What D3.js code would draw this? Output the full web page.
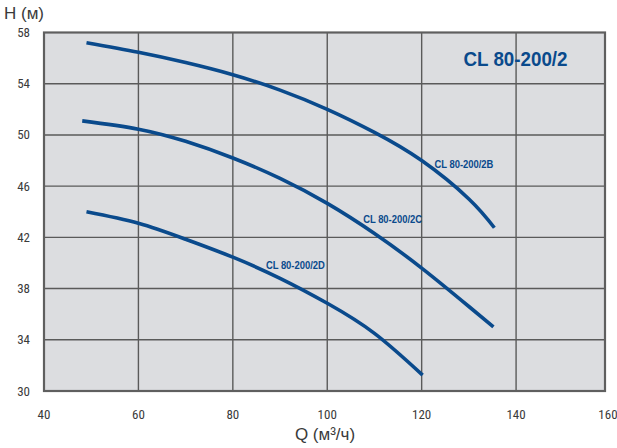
<!DOCTYPE html>
<html><head><meta charset="utf-8">
<script src="https://cdn.jsdelivr.net/npm/d3@7"></script>
<style>
html,body{margin:0;padding:0;background:#fff;}
svg{display:block;}
</style></head>
<body>
<svg id="chart" width="617" height="448"></svg>
<script>
// ---- data ----
const xTicks = [40, 60, 80, 100, 120, 140, 160];
const yTicks = [30, 34, 38, 42, 46, 50, 54, 58];
const seriesNames = ["CL 80-200/2B", "CL 80-200/2C", "CL 80-200/2D"];
const qB = [49.0, 60, 70, 80, 90, 100, 110, 120, 130, 135.4];
const hB = [57.2, 56.45, 55.65, 54.7, 53.5, 52.0, 50.2, 48.0, 45.0, 42.75];
const qC = [48.1, 60, 70, 80, 90, 100, 110, 120, 130, 135.2];
const hC = [51.1, 50.45, 49.5, 48.2, 46.6, 44.65, 42.3, 39.6, 36.6, 35.0];
const qD = [49.0, 60, 70, 80, 90, 100, 110, 120.2];
const hD = [44.0, 43.1, 41.85, 40.45, 38.8, 36.85, 34.5, 31.24];
// label anchor positions (data coords)
const labelQ = [122.7, 107.6, 87.0];
const labelH = [47.44, 43.09, 39.5];
const title = "CL 80-200/2";
const xTitle = "Q (м³/ч)";
const yTitle = "H (м)";

// ---- layout ----
const frame = {left: 44, top: 32.5, right: 605, bottom: 391};
const blue = "#0a4a8c";
const svg = d3.select("#chart");
const x = d3.scaleLinear().domain([40, 160]).range([44, 610.5]);
const y = d3.scaleLinear().domain([30, 58]).range([391, 32.5]);

svg.append("rect")
  .attr("x", frame.left).attr("y", frame.top)
  .attr("width", frame.right - frame.left).attr("height", frame.bottom - frame.top)
  .attr("fill", "#dcdde0");

// grid
const g = svg.append("g");
g.selectAll("line.v").data(xTicks.filter(d => x(d) > frame.left + 2 && x(d) < frame.right - 2))
  .join("line").attr("class", "v")
  .attr("x1", d => x(d)).attr("x2", d => x(d))
  .attr("y1", frame.top).attr("y2", frame.bottom)
  .attr("stroke", "#5a5a5a").attr("stroke-width", 1.4);
g.selectAll("line.h").data(yTicks.filter(d => y(d) > frame.top + 2 && y(d) < frame.bottom - 2))
  .join("line").attr("class", "h")
  .attr("x1", frame.left).attr("x2", frame.right)
  .attr("y1", d => y(d)).attr("y2", d => y(d))
  .attr("stroke", "#5a5a5a").attr("stroke-width", 1.4);

svg.append("rect")
  .attr("x", frame.left).attr("y", frame.top)
  .attr("width", frame.right - frame.left).attr("height", frame.bottom - frame.top)
  .attr("fill", "none").attr("stroke", "#5f5f5f").attr("stroke-width", 2.2);

// tick labels
const tickFont = "'Liberation Sans Narrow','Arial Narrow','Roboto Condensed',sans-serif";
svg.append("g").selectAll("text").data(yTicks).join("text")
  .attr("x", 30).attr("y", d => y(d)).attr("dy", "0.35em")
  .attr("text-anchor", "end")
  .attr("font-family", tickFont).attr("font-size", 13).attr("fill", "#3a3a3a")
  .text(d => d);
svg.append("g").selectAll("text").data(xTicks).join("text")
  .attr("x", d => Math.min(x(d), 608)).attr("y", 414).attr("dy", "0.35em")
  .attr("text-anchor", "middle")
  .attr("font-family", tickFont).attr("font-size", 13).attr("fill", "#3a3a3a")
  .text(d => d);

// axis titles
const titleFont = "'Liberation Sans','Arial',sans-serif";
svg.append("text").attr("x", 325).attr("y", 440).attr("text-anchor", "middle")
  .attr("font-family", titleFont).attr("font-size", 17).attr("fill", "#3a3a3a")
  .text(xTitle);
svg.append("text").attr("x", 4).attr("y", 19).attr("text-anchor", "start")
  .attr("font-family", titleFont).attr("font-size", 17).attr("fill", "#3a3a3a")
  .text(yTitle);

// curves
const series = [
  {q: qB, h: hB}, {q: qC, h: hC}, {q: qD, h: hD}
];
const line = d3.line().x(d => x(d[0])).y(d => y(d[1])).curve(d3.curveNatural);
svg.append("g").selectAll("path").data(series).join("path")
  .attr("d", s => line(s.q.map((q, i) => [q, s.h[i]])))
  .attr("fill", "none").attr("stroke", blue).attr("stroke-width", 3.6)
  .attr("stroke-linecap", "butt");

// series labels
svg.append("g").selectAll("text").data(seriesNames).join("text")
  .attr("x", (d, i) => x(labelQ[i])).attr("y", (d, i) => y(labelH[i]))
  .attr("font-family", titleFont).attr("font-weight", "bold").attr("font-size", 10.5)
  .attr("textLength", 59).attr("lengthAdjust", "spacingAndGlyphs")
  .attr("fill", blue)
  .text(d => d);

// title
svg.append("text").attr("x", 515.5).attr("y", 65.5).attr("text-anchor", "middle")
  .attr("font-family", titleFont).attr("font-weight", "bold").attr("font-size", 19.5)
  .attr("textLength", 104).attr("lengthAdjust", "spacingAndGlyphs")
  .attr("fill", blue).text(title);
</script>
</body></html>
